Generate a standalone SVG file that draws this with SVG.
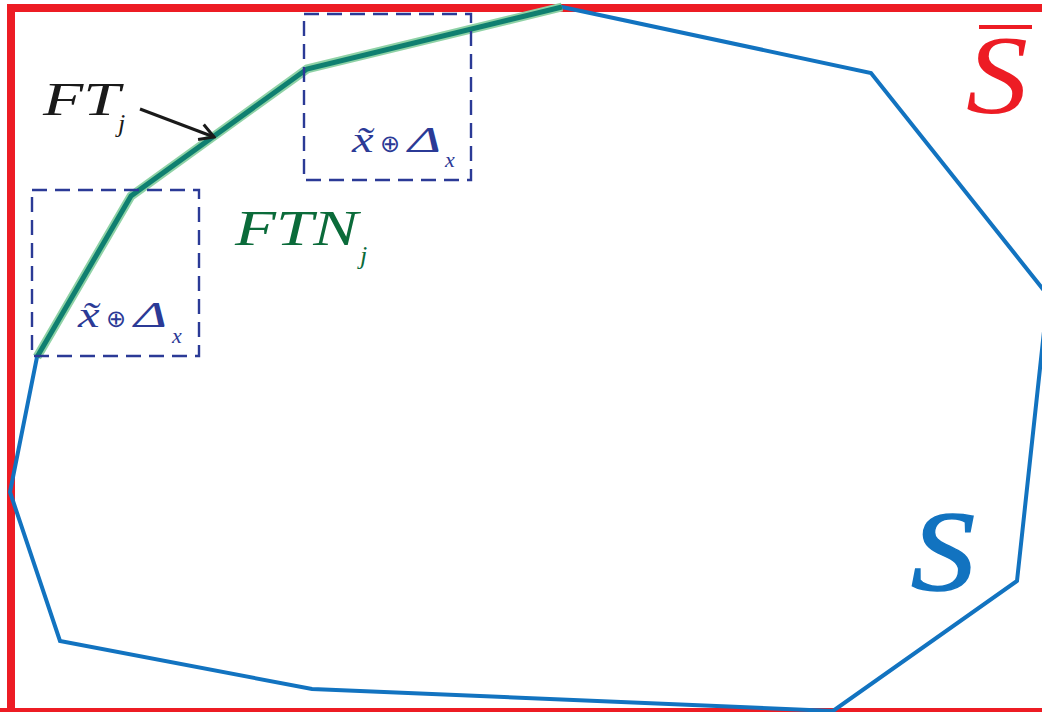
<svg xmlns="http://www.w3.org/2000/svg" width="1042" height="712" viewBox="0 0 1042 712">
<style>
.lbl{font-family:"Liberation Serif","Times New Roman",serif;font-style:italic}
.dash{fill:none;stroke:#2b3a96;stroke-width:2.4;stroke-dasharray:15 8}
.blue{fill:#2b3a96}
.op{font-family:"DejaVu Sans",sans-serif;font-style:normal}
</style>
<defs>
<marker id="arr" viewBox="0 0 20 20" refX="18" refY="10" markerWidth="20" markerHeight="20" markerUnits="userSpaceOnUse" orient="auto">
<path d="M4 2 L18 10 L4 18" fill="none" stroke="#1a1a1a" stroke-width="3"/>
</marker>
</defs>
<rect width="1042" height="712" fill="#fff"/>
<g id="frame">
<path d="M11 712 V8 H1050" fill="none" stroke="#ed1c24" stroke-width="8"/>
<line x1="0" y1="710" x2="1042" y2="710" stroke="#ed1c24" stroke-width="4"/>
</g>
<g id="set-S">
<polygon points="562,7 871,73 1046,293 1046,313 1017,581 833,711 312,689 60,641 10,492 37,357 131,196 307,69" fill="none" stroke="#1273c0" stroke-width="4" stroke-linejoin="miter"/>
</g>
<g id="FTN">
<polyline points="37,357 131,196 307,69 562,7" fill="none" stroke="#8fd2a6" stroke-width="9"/>
<polyline points="37,357 131,196 307,69 562,7" fill="none" stroke="#0f7f70" stroke-width="5"/>
</g>
<g id="box1">
<rect x="32" y="190" width="167" height="166" class="dash"/>
<text class="lbl blue" x="78" y="327" font-size="36" transform="translate(78 0) scale(1.35 1) translate(-78 0)">x̃</text>
<text class="blue op" x="106" y="327" font-size="24">⊕</text>
<text class="lbl blue" x="134" y="327" font-size="36" textLength="33" lengthAdjust="spacingAndGlyphs">Δ</text>
<text class="lbl blue" x="172" y="343" font-size="22">x</text>
</g>
<g id="box2">
<rect x="304" y="14" width="167" height="166" class="dash"/>
<text class="lbl blue" x="352" y="152" font-size="36" transform="translate(352 0) scale(1.35 1) translate(-352 0)">x̃</text>
<text class="blue op" x="380" y="152" font-size="24">⊕</text>
<text class="lbl blue" x="408" y="152" font-size="36" textLength="33" lengthAdjust="spacingAndGlyphs">Δ</text>
<text class="lbl blue" x="445" y="167" font-size="22">x</text>
</g>
<g id="FT-label">
<text class="lbl" x="43" y="115" font-size="46" fill="#1a1a1a" textLength="77" lengthAdjust="spacingAndGlyphs">FT</text>
<text class="lbl" x="118" y="132" font-size="26" fill="#1a1a1a">j</text>
</g>
<g id="FTN-label">
<text class="lbl" x="235" y="245" font-size="50" fill="#0b6b3a" textLength="123" lengthAdjust="spacingAndGlyphs">FTN</text>
<text class="lbl" x="360" y="264" font-size="26" fill="#0b6b3a">j</text>
</g>
<g id="Sbar-label">
<line x1="979" y1="27" x2="1032" y2="27" stroke="#ed1c24" stroke-width="4"/>
<text class="lbl" x="966" y="113" font-size="112" fill="#ed1c24" textLength="62" lengthAdjust="spacingAndGlyphs">S</text>
</g>
<g id="S-label">
<text class="lbl" x="911" y="590" font-size="114" fill="#1273c0" stroke="#1273c0" stroke-width="1.5" textLength="64" lengthAdjust="spacingAndGlyphs">S</text>
</g>
<g id="connectors">
<line x1="140" y1="109" x2="214" y2="137" stroke="#1a1a1a" stroke-width="3" marker-end="url(#arr)"/>
</g>
</svg>
